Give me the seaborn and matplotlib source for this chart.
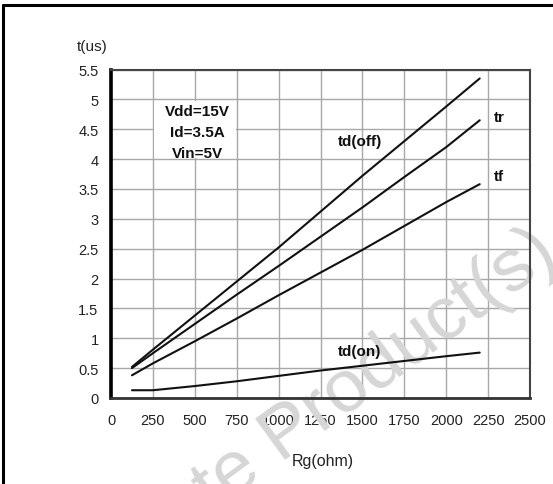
import matplotlib
matplotlib.use("Agg")
import matplotlib.pyplot as plt
import seaborn as sns
import pandas as pd
from matplotlib.patches import Rectangle
from matplotlib.lines import Line2D

# ---- data ----
rg = [125, 250, 500, 750, 1000, 1250, 1500, 1750, 2000, 2200]
td_off = [0.52, 0.81, 1.38, 1.95, 2.52, 3.12, 3.72, 4.30, 4.88, 5.35]
t_r = [0.50, 0.75, 1.24, 1.73, 2.21, 2.70, 3.19, 3.70, 4.20, 4.65]
t_f = [0.38, 0.58, 0.95, 1.33, 1.72, 2.10, 2.48, 2.88, 3.28, 3.58]
td_on = [0.13, 0.13, 0.20, 0.28, 0.37, 0.46, 0.54, 0.62, 0.70, 0.76]
series_names = ["td(off)", "tr", "tf", "td(on)"]
x_ticks = [0, 250, 500, 750, 1000, 1250, 1500, 1750, 2000, 2250, 2500]
y_ticks = [0, 0.5, 1, 1.5, 2, 2.5, 3, 3.5, 4, 4.5, 5, 5.5]
y_tick_labels = ["0", "0.5", "1", "1.5", "2", "2.5", "3", "3.5", "4", "4.5", "5", "5.5"]
conditions = ["Vdd=15V", "Id=3.5A", "Vin=5V"]

frames = []
for name, vals in zip(series_names, [td_off, t_r, t_f, td_on]):
    frames.append(pd.DataFrame({"Rg": rg, "t": vals, "series": name}))
df = pd.concat(frames, ignore_index=True)

sns.set_theme(style="white")
plt.rcParams["font.family"] = ["Liberation Sans", "DejaVu Sans"]

fig = plt.figure(figsize=(5.53, 4.85), dpi=100)
ax = fig.add_axes([111/553, 1-399/485, (530-111)/553, (399-70.5)/485])

sns.lineplot(data=df, x="Rg", y="t", hue="series", units="series", estimator=None,
             palette={n: "#111111" for n in series_names}, legend=False,
             linewidth=1.5, ax=ax, zorder=3)

ax.set_xlim(0, 2500)
ax.set_ylim(0, 5.5)
ax.set_xticks(x_ticks)
ax.set_xticklabels([str(v) for v in x_ticks])
ax.set_yticks(y_ticks)
ax.set_yticklabels(y_tick_labels)
ax.tick_params(axis="both", length=0, labelsize=10.5, colors="#222222")
ax.tick_params(axis="y", pad=9)
ax.tick_params(axis="x", pad=11)
ax.set_xlabel("")
ax.set_ylabel("")
ax.grid(True, color="#a8a8a8", linewidth=1.0)
ax.set_axisbelow(True)

for side, lw, col in [("left", 2.6, "#000000"), ("bottom", 2.0, "#333333"),
                      ("top", 1.5, "#444444"), ("right", 1.5, "#444444")]:
    ax.spines[side].set_visible(True)
    ax.spines[side].set_linewidth(lw)
    ax.spines[side].set_color(col)

# watermark: above grid, below curves and labels
ax.text(560/553, 1-260/485, "Obsolete Product(s)", transform=fig.transFigure,
        ha="right", va="baseline", rotation=36, rotation_mode="anchor",
        fontsize=54, color="#d6d6d6", zorder=2, clip_on=False)

# white box behind condition text
ax.add_patch(Rectangle((255, 4.02), 490, 0.96, facecolor="white", edgecolor="none", zorder=1))
for txt, yv in zip(conditions, [4.81, 4.46, 4.11]):
    ax.text(513, yv, txt, ha="center", va="center", fontsize=11, fontweight="bold",
            color="#111111", zorder=4)

for txt, xv, yv, ha in [("td(off)", 1486, 4.31, "center"), ("tr", 2285, 4.70, "left"),
                        ("tf", 2285, 3.72, "left"), ("td(on)", 1486, 0.79, "center")]:
    ax.text(xv, yv, txt, ha=ha, va="center", fontsize=11, fontweight="bold",
            color="#111111", zorder=4)

fig.text(92/553, 1-47/485, "t(us)", ha="center", va="center", fontsize=11, color="#222222")
fig.text(323/553, 1-462/485, "Rg(ohm)", ha="center", va="center", fontsize=11.5, color="#222222")

# frame lines (top and left)
fig.add_artist(Line2D([3/553, 1], [1-6/485, 1-6/485], color="black", linewidth=2.2))
fig.add_artist(Line2D([3/553, 3/553], [0, 1-6/485], color="black", linewidth=2.2))

fig.savefig("out.png", dpi=100, facecolor="white")
